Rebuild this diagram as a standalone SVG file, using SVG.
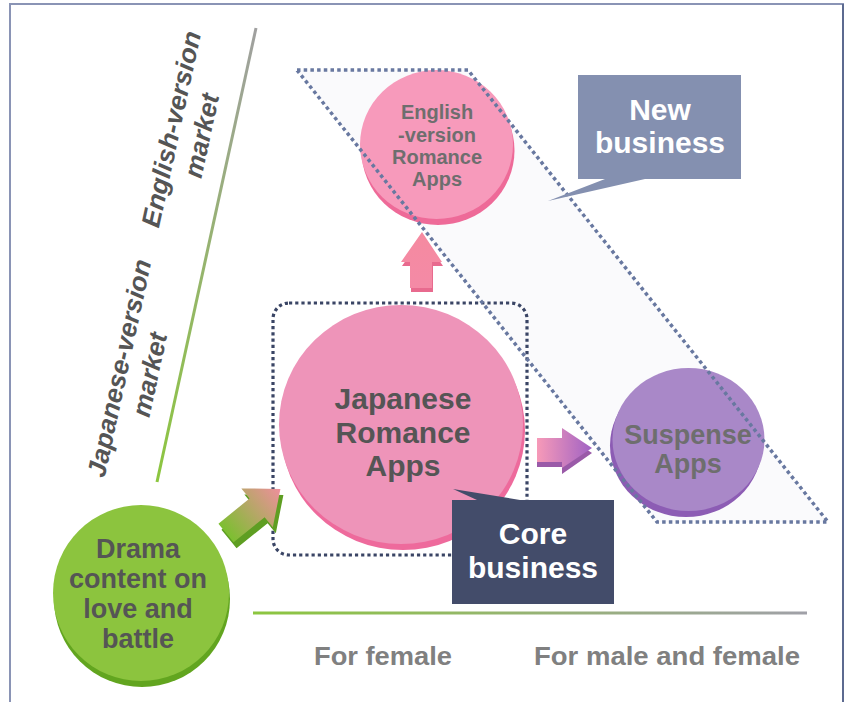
<svg xmlns="http://www.w3.org/2000/svg" width="845" height="702" viewBox="0 0 845 702">
<style>
text{font-family:"Liberation Sans",Arial,sans-serif;font-weight:bold;text-anchor:middle}
.dark{fill:#555555}
.mid{fill:#6e6e6e}
.white{fill:#ffffff}
.axis{fill:#555555;font-style:italic;font-size:26px}
.bottom{fill:#808080;font-size:26px}
.dot{fill:none;stroke-width:3.5;stroke-dasharray:3.5 3.2}
.dot2{stroke-width:3.2;stroke-dasharray:3.2 3}
</style>
<defs>
<linearGradient id="gV" gradientUnits="userSpaceOnUse" x1="256" y1="28" x2="157" y2="482">
<stop offset="0" stop-color="#a0a0a0"/><stop offset="1" stop-color="#8cc63f"/>
</linearGradient>
<linearGradient id="gH" gradientUnits="userSpaceOnUse" x1="253" y1="0" x2="807" y2="0">
<stop offset="0" stop-color="#8cc63f"/><stop offset="1" stop-color="#a0a0a8"/>
</linearGradient>
<linearGradient id="gGreen" x1="0" y1="0" x2="1" y2="0">
<stop offset="0" stop-color="#7cbf30"/><stop offset="1" stop-color="#ee8f9c"/>
</linearGradient>
<linearGradient id="gRight" x1="0" y1="0" x2="1" y2="0">
<stop offset="0" stop-color="#f79ab8"/><stop offset="1" stop-color="#a062c4"/>
</linearGradient>
<linearGradient id="gUp" x1="0" y1="1" x2="0" y2="0">
<stop offset="0" stop-color="#f48aa6"/><stop offset="1" stop-color="#f58aa0"/>
</linearGradient>
</defs>
<rect x="10" y="4" width="833" height="720" fill="#ffffff" stroke="#8a94b5" stroke-width="2"/>
<line x1="843" y1="4" x2="843" y2="702" stroke="#5c6a90" stroke-width="2"/>

<g id="axes">
<line x1="256" y1="28" x2="157" y2="482" stroke="url(#gV)" stroke-width="3"/>
<line x1="253" y1="613" x2="807" y2="613" stroke="url(#gH)" stroke-width="3"/>
<text class="axis" transform="translate(180,131) rotate(-77.8)"><tspan x="0" y="0" textLength="200" lengthAdjust="spacingAndGlyphs">English-version</tspan><tspan x="0" y="31">market</tspan></text>
<text class="axis" transform="translate(128,370) rotate(-77.8)"><tspan x="0" y="0" textLength="222" lengthAdjust="spacingAndGlyphs">Japanese-version</tspan><tspan x="0" y="31">market</tspan></text>
<text class="bottom" x="383" y="665" textLength="138" lengthAdjust="spacingAndGlyphs">For female</text>
<text class="bottom" x="667" y="665" textLength="266" lengthAdjust="spacingAndGlyphs">For male and female</text>
</g>

<g id="new-business-area">
<polygon points="297,70 468,70 828,522 657,522" fill="#fafafc"/>
</g>

<g id="core-business-area">
<rect x="273" y="303" width="254" height="252" rx="16" fill="#eef0f5" stroke="#3a4565" class="dot dot2"/>
</g>

<g id="connectors">
<g id="arrow-drama-to-japanese">
<polygon points="0,-12 40,-12 40,-25 70,0 40,25 40,12 0,12" transform="translate(229,539) rotate(-39)" fill="#5e9e22"/>
<polygon points="0,-12 40,-12 40,-25 70,0 40,25 40,12 0,12" transform="translate(226,533) rotate(-39)" fill="url(#gGreen)"/>
</g>
<g id="arrow-japanese-to-english">
<polygon points="423,236 443,266 433,266 433,292 411,292 411,266 402,266" fill="#e86a8e"/>
<polygon points="422,232 442,262 432,262 432,288 410,288 410,262 401,262" fill="url(#gUp)"/>
</g>
<g id="arrow-japanese-to-suspense">
<polygon points="537,443 562,443 562,433 592,453 562,474 562,467 537,467" fill="#9a5aa8"/>
<polygon points="537,438 562,438 562,428 592,448 562,468 562,462 537,462" fill="url(#gRight)"/>
</g>
</g>

<g id="english-romance-apps">
<ellipse cx="438" cy="150.5" rx="76.5" ry="74.5" fill="#ee6a98"/>
<ellipse cx="436.5" cy="144.5" rx="76.5" ry="74.5" fill="#f79abb"/>
<text class="mid" font-size="20"><tspan x="437" y="119">English</tspan><tspan x="437" y="142">-version</tspan><tspan x="437" y="164">Romance</tspan><tspan x="437" y="186">Apps</tspan></text>
</g>

<g id="japanese-romance-apps">
<ellipse cx="403" cy="430.5" rx="122" ry="119.5" fill="#ee6a9c"/>
<ellipse cx="401" cy="424.5" rx="122" ry="119.5" fill="#ee94b9"/>
<text class="dark" font-size="30"><tspan x="403" y="409">Japanese</tspan><tspan x="403" y="443">Romance</tspan><tspan x="403" y="476">Apps</tspan></text>
</g>

<g id="suspense-apps">
<ellipse cx="686" cy="445.5" rx="76" ry="71.5" fill="#8c5cb4"/>
<ellipse cx="688.5" cy="439.5" rx="76" ry="71.5" fill="#a988c8"/>
<text class="mid" font-size="27"><tspan x="688" y="444">Suspense</tspan><tspan x="688" y="473">Apps</tspan></text>
</g>

<g id="drama-content">
<ellipse cx="142" cy="599" rx="88" ry="88" fill="#62a51f"/>
<ellipse cx="141" cy="593" rx="88" ry="88" fill="#8cc43e"/>
<text class="dark" font-size="27"><tspan x="138" y="558">Drama</tspan><tspan x="138" y="588">content on</tspan><tspan x="138" y="618">love and</tspan><tspan x="138" y="648">battle</tspan></text>
</g>

<g id="new-business-outline">
<polygon points="297,70 468,70 828,522 657,522" class="dot" stroke="#6878a0"/>
</g>

<g id="new-business">
<path d="M578,75 H741 V179 H645 L548,201 L605,179 H578 Z" fill="#8490b0"/>
<text class="white" font-size="30"><tspan x="660" y="120">New</tspan><tspan x="660" y="153">business</tspan></text>
</g>

<g id="core-business">
<path d="M452,500 H477 L453,489 L520,500 H614 V604 H452 Z" fill="#434c6a"/>
<text class="white" font-size="30"><tspan x="533" y="544">Core</tspan><tspan x="533" y="578">business</tspan></text>
</g>
</svg>
